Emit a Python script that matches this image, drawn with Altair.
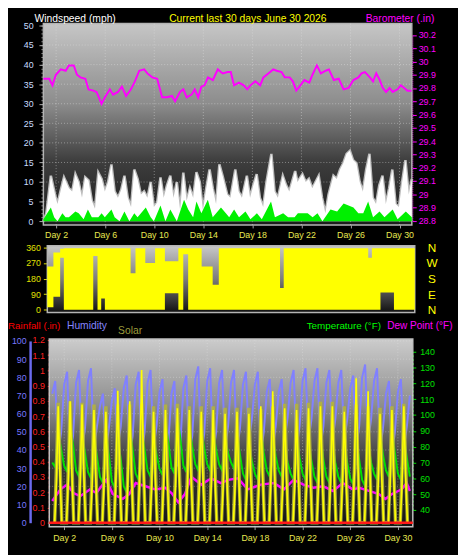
import altair as alt
import pandas as pd

W, H = 458, 547
FONT = "Liberation Sans"

# ---------------- tick values ----------------
DAY_TICKS = [2, 6, 10, 14, 18, 22, 26, 30]
WIND_TICKS = [0, 5, 10, 15, 20, 25, 30, 35, 40, 45, 50]
WIND_MINOR = list(range(0, 51))
BARO_TICKS = [28.8, 28.9, 29.0, 29.1, 29.2, 29.3, 29.4, 29.5, 29.6, 29.7, 29.8, 29.9, 30.0, 30.1, 30.2]
DIR_TICKS = [0, 90, 180, 270, 360]
HUM_TICKS = [0, 10, 20, 30, 40, 50, 60, 70, 80, 90, 100]
RAIN_TICKS = [0, 0.1, 0.2, 0.3, 0.4, 0.5, 0.6, 0.7, 0.8, 0.9, 1.0, 1.1, 1.2]
TEMP_TICKS = [40, 50, 60, 70, 80, 90, 100, 110, 120, 130, 140]

# ---------------- data ----------------
# Barometer (.in): (day, value)
BARO = [(0.96, 29.87), (1.44, 29.87), (1.7, 29.82), (1.98, 29.90), (2.38, 29.94), (2.78, 29.93),
        (3.04, 29.97), (3.44, 29.97), (3.7, 29.90), (3.98, 29.88), (4.38, 29.87), (4.64, 29.79),
        (5.04, 29.78), (5.3, 29.77), (5.7, 29.68), (5.98, 29.73), (6.38, 29.79), (6.64, 29.75),
        (7.04, 29.77), (7.36, 29.81), (7.7, 29.74), (8.1, 29.79), (8.42, 29.85), (8.78, 29.93),
        (9.18, 29.94), (9.44, 29.91), (9.84, 29.88), (10.24, 29.87), (10.64, 29.73), (11.04, 29.73),
        (11.44, 29.74), (11.7, 29.70), (12.1, 29.77), (12.38, 29.79), (12.64, 29.73), (13.04, 29.75),
        (13.3, 29.79), (13.58, 29.73), (13.84, 29.81), (14.1, 29.82), (14.38, 29.88), (14.78, 29.86),
        (15.18, 29.94), (15.58, 29.91), (15.98, 29.92), (16.24, 29.92), (16.5, 29.82), (16.9, 29.84),
        (17.3, 29.82), (17.58, 29.79), (17.84, 29.82), (18.24, 29.85), (18.64, 29.82), (18.9, 29.88),
        (19.3, 29.91), (19.7, 29.94), (19.98, 29.93), (20.38, 29.92), (20.64, 29.88), (21.04, 29.88),
        (21.3, 29.85), (21.58, 29.78), (21.84, 29.81), (22.24, 29.86), (22.64, 29.84), (22.9, 29.90),
        (23.26, 29.97), (23.58, 29.91), (23.98, 29.93), (24.24, 29.94), (24.64, 29.86), (25.04, 29.87),
        (25.44, 29.79), (25.84, 29.80), (26.24, 29.86), (26.64, 29.88), (26.9, 29.91), (27.18, 29.92),
        (27.58, 29.88), (27.84, 29.85), (28.1, 29.91), (28.38, 29.86), (28.64, 29.80), (28.9, 29.77),
        (29.18, 29.80), (29.44, 29.77), (29.84, 29.79), (30.1, 29.82), (30.38, 29.80), (30.64, 29.78),
        (30.98, 29.78)]

# Wind gust (mph): (day, value)
GUST = [(0.96, 0.0), (1.2, 2.0), (1.57, 11.6), (1.97, 6.0), (2.11, 4.4), (2.37, 7.8), (2.64, 11.2),
        (3.04, 8.4), (3.31, 7.6), (3.57, 12.0), (3.84, 10.0), (4.11, 6.0), (4.37, 11.2), (4.64, 10.4),
        (4.91, 5.2), (5.17, 3.2), (5.44, 12.4), (5.71, 10.8), (5.97, 7.6), (6.24, 10.0), (6.51, 14.5),
        (6.77, 7.6), (7.04, 6.0), (7.31, 8.0), (7.57, 11.6), (7.84, 6.0), (8.11, 3.6), (8.37, 13.2),
        (8.64, 10.8), (8.91, 6.8), (9.17, 7.6), (9.44, 6.0), (9.71, 10.0), (9.97, 3.6), (10.24, 4.8),
        (10.51, 11.2), (10.77, 6.0), (11.04, 9.2), (11.31, 11.6), (11.57, 6.0), (11.84, 10.0),
        (12.11, 2.8), (12.37, 12.4), (12.64, 5.2), (12.91, 8.4), (13.17, 6.0), (13.44, 12.5),
        (13.71, 10.0), (13.97, 2.8), (14.24, 8.4), (14.51, 13.2), (14.77, 8.4), (15.04, 4.4),
        (15.31, 14.5), (15.57, 11.6), (15.95, 6.8), (16.21, 6.0), (16.61, 13.2), (16.88, 7.6),
        (17.15, 6.0), (17.55, 11.6), (17.81, 6.0), (18.08, 9.2), (18.35, 12.0), (18.61, 6.0),
        (18.88, 3.6), (19.15, 10.0), (19.55, 17.2), (19.81, 7.6), (20.08, 6.0), (20.48, 11.6),
        (20.75, 9.2), (21.01, 7.6), (21.49, 12.8), (21.68, 10.0), (22.08, 12.0), (22.35, 10.0),
        (22.61, 10.8), (22.88, 8.4), (23.41, 11.6), (23.68, 6.0), (23.95, 2.0), (24.21, 6.8),
        (24.61, 11.6), (24.88, 10.8), (25.15, 13.2), (25.41, 14.8), (25.68, 17.2), (25.95, 18.0),
        (26.21, 15.6), (26.48, 14.8), (26.75, 10.0), (27.01, 7.6), (27.28, 13.2), (27.55, 17.2),
        (27.81, 6.0), (28.08, 4.4), (28.35, 9.2), (28.61, 11.6), (28.88, 4.4), (29.15, 8.4),
        (29.41, 13.2), (29.68, 4.4), (29.95, 3.6), (30.21, 10.0), (30.48, 15.6), (30.75, 6.8),
        (31.0, 10.8)]

# Wind average (mph): (day, value)
AVG = [(0.96, 0.5), (1.57, 3.5), (1.84, 1), (2.11, 0), (2.51, 2), (2.77, 1), (3.04, 1), (3.57, 2.5),
       (3.84, 2), (4.24, 0.5), (4.59, 3), (4.91, 1), (5.44, 1), (5.71, 2), (5.97, 1), (6.51, 3),
       (6.77, 1), (7.17, 0), (7.57, 2.5), (7.97, 0), (8.37, 2), (8.64, 1), (9.31, 3.5), (9.71, 1),
       (9.97, 0), (10.51, 4), (10.91, 0), (11.31, 3), (11.84, 0), (12.43, 5.5), (12.77, 3),
       (13.17, 1), (13.44, 5), (13.84, 2), (14.37, 5.5), (14.77, 1), (15.44, 3.5), (15.84, 2),
       (16.11, 1), (16.51, 3), (16.91, 1), (17.44, 2.5), (17.84, 0.5), (18.37, 2), (18.77, 0.5),
       (19.52, 5), (19.84, 1), (20.51, 2), (20.91, 1), (21.44, 1), (21.71, 2), (22.51, 2),
       (22.91, 1), (23.31, 2), (23.71, 0), (24.37, 3), (24.91, 2.5), (25.44, 4.5), (25.84, 4),
       (26.24, 3.5), (26.64, 2), (27.04, 2), (27.44, 5), (27.84, 1), (28.37, 2.5), (28.77, 1),
       (29.44, 3), (29.84, 0.5), (30.51, 2.5), (31.0, 1)]

# Wind direction band (degrees): (day, low, high), held until the next row
WDIR = [(1.0, 15, 250), (1.5, 75, 330), (2.05, 300, 352), (2.35, 0, 355), (4.75, 310, 355),
        (5.1, 0, 355), (5.4, 65, 355), (5.7, 0, 355), (7.8, 0, 210), (8.2, 0, 355), (9.0, 0, 270),
        (9.8, 0, 355), (10.6, 95, 280), (11.7, 0, 355), (12.1, 320, 355), (12.5, 0, 355),
        (13.6, 0, 250), (14.5, 0, 145), (15.0, 0, 355), (20.0, 0, 125), (20.3, 0, 355),
        (27.2, 0, 300), (27.5, 0, 355), (28.2, 100, 355), (29.3, 0, 355), (31.0, 0, 355)]

# Six-hourly samples (0h, 6h, 12h, 18h) for each day, plus the final midnight
TEMP_BY_DAY = [
    [70, 67, 90, 78], [68, 64, 93, 81], [65, 61, 88, 76], [64, 60, 86, 74], [61, 57, 88, 75],
    [58, 54, 86, 72], [55, 51, 92, 78], [63, 59, 90, 78], [65, 61, 86, 75], [66, 62, 96, 82],
    [67, 63, 99, 85], [68, 64, 93, 80], [69, 65, 92, 79], [69, 65, 90, 78], [69, 65, 86, 76],
    [70, 66, 88, 75], [63, 59, 82, 71], [63, 59, 90, 76], [65, 61, 86, 74], [65, 61, 80, 70],
    [63, 59, 86, 73], [63, 59, 82, 71], [61, 57, 86, 72], [61, 57, 82, 70], [61, 57, 82, 70],
    [60, 56, 86, 72], [59, 55, 82, 70], [63, 59, 88, 75], [65, 61, 90, 76], [63, 59, 86, 73]]
TEMP_END = 61

HUM_BY_DAY = [
    [71, 78, 38, 50], [76, 83, 36, 48], [77, 84, 40, 52], [78, 85, 41, 53], [64, 71, 40, 52],
    [67, 74, 41, 53], [74, 81, 36, 48], [76, 83, 38, 50], [77, 84, 41, 53], [72, 79, 33, 45],
    [71, 78, 31, 43], [74, 81, 36, 48], [79, 86, 37, 49], [78, 85, 38, 50], [77, 84, 41, 53],
    [77, 84, 40, 52], [76, 83, 45, 57], [76, 83, 38, 50], [72, 79, 41, 53], [72, 79, 46, 58],
    [77, 84, 41, 53], [78, 85, 45, 57], [78, 85, 41, 53], [77, 84, 45, 57], [77, 84, 45, 57],
    [74, 81, 41, 53], [80, 87, 45, 57], [78, 85, 40, 52], [71, 78, 38, 50], [72, 79, 41, 53]]
HUM_END = 70

# Solar, five samples per day (dawn, morning, noon, afternoon, dusk)
SOLAR_OFFSETS = [0.2, 0.35, 0.5, 0.65, 0.8]
SOLAR_MAX_BY_DAY = [
    [0, 300, 660, 330, 0], [0, 300, 668, 334, 0], [0, 300, 660, 330, 0], [0, 292, 650, 325, 0],
    [0, 288, 641, 320, 0], [0, 292, 650, 325, 0], [0, 292, 650, 325, 0], [0, 295, 655, 328, 0],
    [0, 288, 641, 320, 0], [0, 292, 650, 325, 0], [0, 294, 654, 327, 0], [0, 288, 641, 320, 0],
    [0, 288, 641, 320, 0], [0, 288, 641, 320, 0], [0, 284, 632, 316, 0], [0, 284, 632, 316, 0],
    [0, 284, 632, 316, 0], [0, 281, 625, 312, 0], [0, 288, 640, 320, 0], [0, 294, 654, 327, 0],
    [0, 294, 654, 327, 0], [0, 297, 660, 330, 0], [0, 299, 665, 332, 0], [0, 299, 665, 332, 0],
    [0, 288, 641, 320, 0], [0, 292, 650, 325, 0], [0, 288, 640, 320, 0], [0, 284, 632, 316, 0],
    [0, 288, 641, 320, 0], [0, 294, 654, 327, 0]]
SOLAR_BY_DAY = [
    [0, 224, 640, 256, 0], [0, 234, 668, 267, 0], [0, 228, 650, 260, 0], [0, 217, 620, 248, 0],
    [0, 214, 610, 244, 0], [0, 254, 726, 290, 0], [0, 234, 668, 267, 0], [0, 294, 840, 336, 0],
    [0, 214, 610, 244, 0], [0, 217, 620, 248, 0], [0, 220, 630, 252, 0], [0, 217, 620, 248, 0],
    [0, 214, 610, 244, 0], [0, 217, 620, 248, 0], [0, 210, 600, 240, 0], [0, 214, 610, 244, 0],
    [0, 210, 600, 240, 0], [0, 224, 640, 256, 0], [0, 253, 723, 289, 0], [0, 220, 630, 252, 0],
    [0, 217, 620, 248, 0], [0, 220, 630, 252, 0], [0, 224, 640, 256, 0], [0, 224, 640, 256, 0],
    [0, 214, 610, 244, 0], [0, 278, 795, 318, 0], [0, 253, 723, 289, 0], [0, 210, 600, 240, 0],
    [0, 217, 620, 248, 0], [0, 224, 640, 256, 0]]

# Dew point (F): (day, value)
DEW = [(1.0, 45.6), (1.69, 53), (2.24, 56), (2.79, 50.7), (3.34, 48.7), (4.16, 53), (4.71, 50.7),
       (5.53, 59), (6.08, 50), (6.91, 47), (7.46, 50), (8.0, 57), (8.83, 55), (9.66, 53),
       (10.48, 54), (11.03, 50.5), (11.58, 44.7), (12.13, 50), (12.68, 61), (13.5, 56),
       (14.33, 60), (15.15, 57), (15.76, 59), (16.58, 60), (17.4, 53), (18.5, 56), (19.6, 57),
       (20.43, 53), (21.25, 59), (22.08, 56), (22.9, 54), (23.73, 55), (24.55, 52), (25.38, 57),
       (26.2, 53), (26.75, 54), (27.57, 52), (28.4, 50), (28.95, 47), (29.5, 50), (30.32, 53),
       (30.74, 57), (31.0, 52)]

# Rainfall (.in)
RAIN = [(0.75, 0.0), (31.25, 0.0)]

# ---------------- frames ----------------
quarter_days = [1 + 0.25 * i for i in range(4 * len(TEMP_BY_DAY) + 1)]
temp_vals = [v for row in TEMP_BY_DAY for v in row] + [TEMP_END]
hum_vals = [v for row in HUM_BY_DAY for v in row] + [HUM_END]
bottom_df = pd.DataFrame({"d": quarter_days, "temp": temp_vals, "hum": hum_vals})

solar_days = [k + 1 + f for k in range(len(SOLAR_BY_DAY)) for f in SOLAR_OFFSETS]
solar_df = pd.DataFrame({
    "d": solar_days,
    "solar": [v for row in SOLAR_BY_DAY for v in row],
    "smax": [v for row in SOLAR_MAX_BY_DAY for v in row],
})

baro_df = pd.DataFrame(BARO, columns=["d", "v"])
gust_df = pd.DataFrame(GUST, columns=["d", "v"])
avg_df = pd.DataFrame(AVG, columns=["d", "v"])
dir_df = pd.DataFrame(WDIR, columns=["d", "lo", "hi"])
dew_df = pd.DataFrame(DEW, columns=["d", "v"])
rain_df = pd.DataFrame(RAIN, columns=["d", "v"])

# ---------------- scales (pixel layout inside one canvas) ----------------
TOP_X = ([0.96, 31.0], [36, 411])
WIND_Y = ([0, 50], [212.1, 12.9])
BARO_Y = ([28.8, 30.2], [211.7, 22.5])
MID_X = ([1, 31], [40, 414])
DIR_Y = ([0, 360], [302.3, 238.7])
BOT_X = ([0.75, 31.25], [42, 412])
HUM_Y = ([0, 100], [519, 334])
RAIN_Y = ([0, 1.2], [519, 333])
TEMP_Y = ([40, 140], [506, 345])
SOL_Y = ([0, 1000], [519, 334])


def sc(s):
    return alt.Scale(domain=s[0], range=s[1], nice=False, zero=False)


def X(field, s, axis=None):
    return alt.X(field, type="quantitative", scale=sc(s), axis=axis)


def Y(field, s, axis=None):
    return alt.Y(field, type="quantitative", scale=sc(s), axis=axis)


def grad(stops):
    return alt.Gradient(gradient="linear", x1=0, x2=0, y1=0, y2=1,
                        stops=[alt.GradientStop(offset=o, color=c) for o, c in stops])


day_expr = "'Day ' + datum.value"

# ---------------- top panel ----------------
top_bg = alt.Chart(pd.DataFrame({"x0": [0.96], "x1": [31.0], "y0": [-1.0], "y1": [50.5]})).mark_rect(
    fill=grad([(0, "#c6c6c6"), (0.4, "#8c8c8c"), (0.68, "#3e3e3e"), (1, "#1c1c1c")]),
    stroke="#b4b4b4", strokeWidth=1.5).encode(
    x=X("x0", TOP_X), x2="x1",
    y=Y("y0", WIND_Y, alt.Axis(orient="left", offset=-35.5, values=WIND_MINOR, labels=False,
                               tickSize=2, tickColor="#8a8a8a", domain=False, grid=False, title=None)),
    y2="y1")

top_vgrid = alt.Chart(pd.DataFrame({"d": DAY_TICKS, "y0": -1.0, "y1": 50.5})).mark_rule(
    color="#e6e6e6", strokeDash=[1, 2], opacity=0.45).encode(
    x=X("d", TOP_X), y=Y("y0", WIND_Y), y2="y1")

top_hgrid = alt.Chart(pd.DataFrame({"w": WIND_TICKS[1:-1], "x0": 0.96, "x1": 31.0})).mark_rule(
    color="#e6e6e6", strokeDash=[1, 2], opacity=0.45).encode(
    y=Y("w", WIND_Y), x=X("x0", TOP_X), x2="x1")

gust_edge = alt.Chart(gust_df).mark_line(color="#bdbdbd", strokeWidth=2.6).encode(
    x=X("d", TOP_X), y=Y("v", WIND_Y))

gust_area = alt.Chart(gust_df).mark_area(color="#ffffff").encode(
    x=X("d", TOP_X, alt.Axis(orient="bottom", offset=216 - H, values=DAY_TICKS, labelExpr=day_expr,
                             tickSize=3, tickColor="#a0a0a0", labelColor="#e8e850", labelFontSize=9,
                             labelPadding=3, domain=False, grid=False, title=None)),
    y=Y("v", WIND_Y, alt.Axis(orient="left", offset=-35.5, values=WIND_TICKS, tickSize=4,
                              tickColor="#a8a8a8", labelColor="#c8dcff", labelFontSize=9,
                              labelPadding=6, domain=False, grid=False, title=None)),
    y2=alt.Y2(datum=0))

avg_area = alt.Chart(avg_df).mark_area(color="#00f000").encode(
    x=X("d", TOP_X), y=Y("v", WIND_Y), y2=alt.Y2(datum=0))

baro_line = alt.Chart(baro_df).mark_line(color="#ff00ff", strokeWidth=2).encode(
    x=X("d", TOP_X),
    y=Y("v", BARO_Y, alt.Axis(orient="right", offset=411.5 - W, values=BARO_TICKS, format="~f",
                              tickSize=4, tickColor="#ff00ff", labelColor="#ff00ff", labelFontSize=9,
                              labelPadding=2, domain=True, domainColor="#ff00ff", domainDash=[1, 1],
                              grid=False, title=None)))

# ---------------- middle panel ----------------
compass = ("datum.value == 0 ? 'N' : datum.value == 90 ? 'E' : datum.value == 180 ? 'S' : "
           "datum.value == 270 ? 'W' : 'N'")
mid_bg = alt.Chart(pd.DataFrame({"x0": [1.0], "x1": [31.0], "y0": [-15.3], "y1": [369.6]})).mark_rect(
    fill=grad([(0, "#c8c8c8"), (0.5, "#7c7c7c"), (1, "#101010")]),
    stroke="#b4b4b4", strokeWidth=1.5).encode(
    x=X("x0", MID_X), x2="x1",
    y=Y("y0", DIR_Y, alt.Axis(orient="right", offset=414 - W, values=DIR_TICKS, labelExpr=compass,
                              ticks=False, labelPadding=17, labelColor="#ffff00", labelFontSize=12,
                              labelAlign="center", domain=False, grid=False, title=None)),
    y2="y1")

dir_band = alt.Chart(dir_df).mark_area(color="#ffff00", interpolate="step-after").encode(
    x=X("d", MID_X),
    y=Y("lo", DIR_Y, alt.Axis(orient="left", offset=-40, values=DIR_TICKS, tickSize=4,
                              tickColor="#e0e000", labelColor="#e0e000", labelFontSize=9,
                              labelPadding=3, domain=False, grid=False, title=None)),
    y2="hi")

# ---------------- bottom panel ----------------
bot_bg = alt.Chart(pd.DataFrame({"x0": [0.75], "x1": [31.25], "y0": [-2.2], "y1": [101.1]})).mark_rect(
    fill=grad([(0, "#cccccc"), (0.35, "#8e8e8e"), (0.66, "#3a3a3a"), (1, "#141414")]),
    stroke="#c0c0c0", strokeWidth=1.5).encode(
    x=X("x0", BOT_X), x2="x1",
    y=Y("y0", HUM_Y, alt.Axis(orient="left", offset=-22.5, values=HUM_TICKS, ticks=False,
                              labelPadding=4, labelColor="#7878ff", labelFontSize=9, domain=True,
                              domainColor="#6a6aee", domainWidth=2.5, grid=False, title=None)),
    y2="y1")

bot_vgrid = alt.Chart(pd.DataFrame({"d": DAY_TICKS, "y0": -2.2, "y1": 101.1})).mark_rule(
    color="#e6e6e6", strokeDash=[1, 2], opacity=0.4).encode(
    x=X("d", BOT_X), y=Y("y0", HUM_Y), y2="y1")

bot_hgrid = alt.Chart(pd.DataFrame({"h": HUM_TICKS[1:], "x0": 0.75, "x1": 31.25})).mark_rule(
    color="#e6e6e6", strokeDash=[1, 2], opacity=0.4).encode(
    y=Y("h", HUM_Y), x=X("x0", BOT_X), x2="x1")

hum_line = alt.Chart(bottom_df).mark_line(color="#8080ff", strokeWidth=2).encode(
    x=X("d", BOT_X), y=Y("hum", HUM_Y))

temp_line = alt.Chart(bottom_df).mark_line(color="#00e000", strokeWidth=2).encode(
    x=X("d", BOT_X),
    y=Y("temp", TEMP_Y, alt.Axis(orient="right", offset=412 - W, values=TEMP_TICKS, tickSize=3,
                                 tickColor="#00e000", labelColor="#00e000", labelFontSize=9,
                                 labelPadding=4, domain=True, domainColor="#00c000",
                                 domainDash=[2, 2], grid=False, title=None)))

dew_line = alt.Chart(dew_df).mark_line(color="#ff00ff", strokeWidth=2.5).encode(
    x=X("d", BOT_X), y=Y("v", TEMP_Y))

smax_line = alt.Chart(solar_df).mark_line(color="#b4b43c", strokeWidth=3.5, opacity=0.9).encode(
    x=X("d", BOT_X), y=Y("smax", SOL_Y))

solar_line = alt.Chart(solar_df).mark_line(color="#ffff00", strokeWidth=1.6).encode(
    x=X("d", BOT_X), y=Y("solar", SOL_Y))

rain_line = alt.Chart(rain_df).mark_line(color="#ff1a1a", strokeWidth=2.5).encode(
    x=X("d", BOT_X, alt.Axis(orient="bottom", offset=523 - H, values=DAY_TICKS, labelExpr=day_expr,
                             tickSize=3, tickColor="#a0a0a0", labelColor="#e8e850", labelFontSize=9,
                             labelPadding=4, domain=False, grid=False, title=None)),
    y=Y("v", RAIN_Y, alt.Axis(orient="left", offset=-42, values=RAIN_TICKS, format="~f",
                              tickSize=2, tickColor="#ff2020", labelColor="#ff2020", labelFontSize=9,
                              labelPadding=3, domain=True, domainColor="#ff3030", domainDash=[3, 2],
                              domainWidth=2, grid=False, title=None)))


# ---------------- titles ----------------
def label(text, x, y, color, size=10.5):
    return alt.Chart(pd.DataFrame({"t": [text]})).mark_text(
        align="left", baseline="alphabetic", fontSize=size, color=color, font=FONT).encode(
        text="t:N", x=alt.value(x), y=alt.value(y))


titles = [
    label("Windspeed (mph)", 27, 9, "#ffffff"),
    label("Current last 30 days June 30 2026", 164, 9, "#ffff00"),
    label("Barometer (.in)", 364, 9, "#ff00ff"),
    label("Rainfall (.in)", 0, 322, "#ff0000", 10),
    label("Humidity", 60, 322, "#8585ff", 10.5),
    label("Solar", 112, 327, "#9c9c3c", 10.5),
    label("Temperature (°F)", 304, 322, "#00ff00", 10),
    label("Dew Point (°F)", 386, 322, "#ff00ff", 10.2),
]

chart = alt.layer(
    top_bg, top_vgrid, top_hgrid, gust_edge, gust_area, avg_area, baro_line,
    mid_bg, dir_band,
    bot_bg, bot_vgrid, bot_hgrid, hum_line, temp_line, dew_line, smax_line, solar_line, rain_line,
    *titles,
).resolve_scale(x="independent", y="independent").resolve_axis(
    x="independent", y="independent"
).properties(
    width=W, height=H, background="#000000", padding=0,
    autosize=alt.AutoSizeParams(type="none"),
).configure_view(strokeWidth=0).configure_axis(labelFont=FONT)

chart.save("out.html", embed_options={"renderer": "svg", "actions": False})
